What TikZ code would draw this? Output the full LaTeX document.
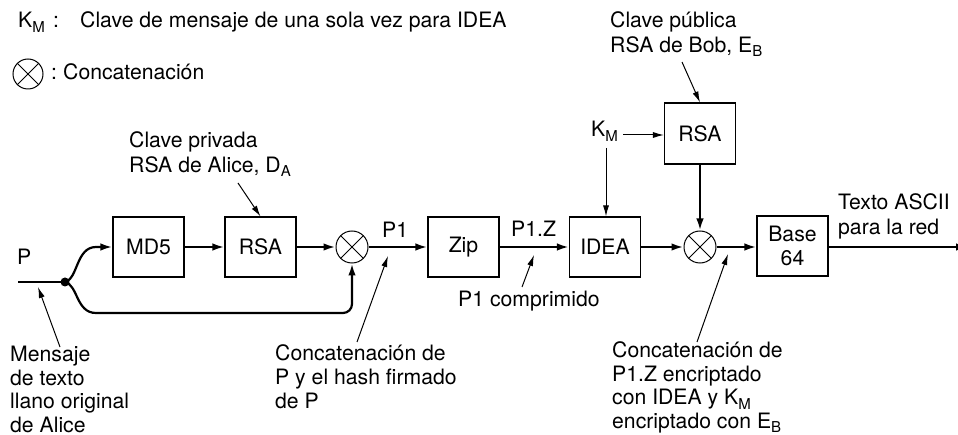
\documentclass[tikz,border=0pt]{standalone}
\usepackage{fontspec}
\setmainfont{TeX Gyre Heros}
\usetikzlibrary{arrows.meta}
\newcommand\mysub[1]{\raisebox{-4.5pt}{\fontsize{15}{15}\selectfont #1}}
\newcommand\ml[1]{\begin{tabular}[t]{@{}l@{}}#1\end{tabular}}
\begin{document}
\begin{tikzpicture}[x=1pt,y=-1pt,
  every node/.style={font=\fontsize{21.2}{24.4}\selectfont, inner sep=0pt},
  box/.style={draw, line width=1.1pt, minimum width=71pt, minimum height=60pt, align=center},
  cat/.style={draw, circle, line width=1pt, minimum size=32pt,
    path picture={\draw[line width=1pt] (path picture bounding box.north west) -- (path picture bounding box.south east)
      (path picture bounding box.north east) -- (path picture bounding box.south west);}},
  flow/.style={line width=2.2pt, -{Latex[length=12pt,width=7.5pt]}},
  thinarrow/.style={line width=1pt, -{Latex[length=11pt,width=6pt]}},
  lbl/.style={anchor=base west},
  tight/.style={font=\fontsize{21.2}{23.4}\selectfont},
]
\useasboundingbox (0,0) rectangle (958,435);

% legend
\node[lbl] (kmlg) at (18,28) {K\mysub{M}};
\node[lbl] (colon1) at (53,28) {:};
\node[lbl] (lg1) at (80,28) {Clave de mensaje de una sola vez para IDEA};
\node[cat, minimum size=30pt] (lgcat) at (28,74) {};
\node[lbl] (colon2) at (51,80) {:};
\node[lbl] (lg2) at (63,80) {Concatenación};

% main row
\node[box] (md5) at (148.5,247) {MD5};
\node[box] (rsa1) at (260.5,247) {RSA};
\node[cat] (c1) at (352,247) {};
\node[box] (zip) at (463.5,247) {Zip};
\node[box] (idea) at (605,247) {IDEA};
\node[cat] (c2) at (700,247) {};
\node[box] (b64) at (792.5,246) {Base\\64};
\node[box, minimum height=61pt] (rsa2) at (700,133.5) {RSA};

% input
\coordinate (pstart) at (18,282);
\node[circle, fill, minimum size=9pt] (dot) at (65,282) {};
\coordinate (lowy) at (0,313);
\draw[line width=2.2pt] (pstart) -- (dot.center);
\draw[flow] (dot.center) .. controls (78,279) and (76,247) .. (96,247) -- (md5.west);
\draw[flow] (dot.center) .. controls (78,285) and (76,313) .. (96,313)
  [rounded corners=9pt] -- (c1.south |- lowy) -- (c1.south);

% flows
\draw[flow] (md5) -- (rsa1);
\draw[flow] (rsa1) -- (c1);
\draw[flow] (c1) -- (zip);
\draw[flow] (zip) -- (idea);
\draw[flow] (idea) -- (c2);
\draw[flow] (c2.east) -- (c2 -| b64.west);
\coordinate (out) at (968,247);
\draw[flow] (c2 -| b64.east) -- (out);
\draw[flow] (rsa2.south) -- (c2.north);

% K_M near RSA
\node[lbl] (km2) at (591,137) {K\mysub{M}};
\coordinate (kmr) at (623,135);
\draw[thinarrow] (kmr) -- (kmr -| rsa2.west);
\coordinate (kmd) at (606,148);
\draw[thinarrow] (kmd) -- (kmd |- idea.north);

% labels
\node[lbl] (plbl) at (17,265) {P};
\node[lbl] (p1lbl) at (382,238) {P1};
\node[lbl] (p1zlbl) at (511,237) {P1.Z};
\node[lbl] (comp) at (458,307) {P1 comprimido};
\node[lbl] (privk) at (129,148) {\ml{Clave privada\\RSA de Alice, D\mysub{A}}};
\node[lbl] (pubk) at (610,28) {\ml{Clave pública\\RSA de Bob, E\mysub{B}}};
\node[lbl] (txt) at (838,210) {\ml{Texto ASCII\\para la red}};
\node[lbl, tight] (msg) at (10,362) {\ml{Mensaje\\de texto\\llano original\\de Alice}};
\node[lbl] (cat1t) at (275,360) {\ml{Concatenación de\\P y el hash firmado\\de P}};
\node[lbl, tight] (cat2t) at (612,358) {\ml{Concatenación de\\P1.Z encriptado\\con IDEA y K\mysub{M}\\encriptado con E\mysub{B}}};

% annotation arrows
\coordinate (a1s) at (60,347); \coordinate (a1e) at (38,287);
\draw[thinarrow] (a1s) -- (a1e);
\coordinate (k1s) at (238,183);
\draw[thinarrow] (k1s) -- (rsa1.north);
\coordinate (a2s) at (357,342); \coordinate (a2e) at (388,256);
\draw[thinarrow] (a2s) -- (a2e);
\coordinate (a3s) at (522,287); \coordinate (a3e) at (534,255);
\draw[thinarrow] (a3s) -- (a3e);
\coordinate (a4s) at (697,342); \coordinate (a4e) at (728,254);
\draw[thinarrow] (a4s) -- (a4e);
\coordinate (k2s) at (682,62);
\draw[thinarrow] (k2s) -- (rsa2.north);
\end{tikzpicture}
\end{document}
